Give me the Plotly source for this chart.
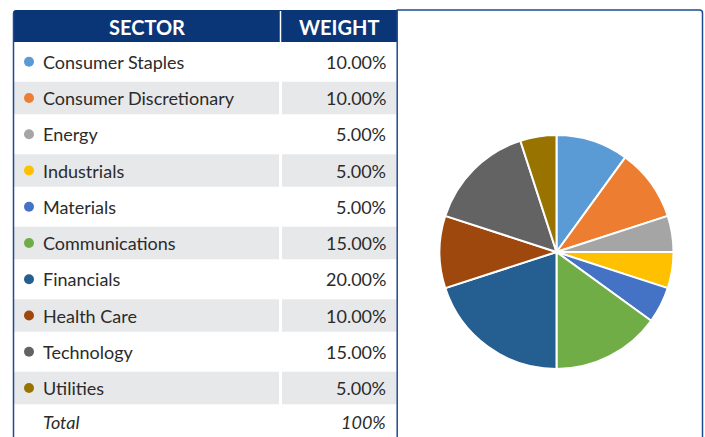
import plotly.graph_objects as go

# ---- data ----
sectors = ["Consumer Staples", "Consumer Discretionary", "Energy", "Industrials",
           "Materials", "Communications", "Financials", "Health Care",
           "Technology", "Utilities"]
weights = [10.0, 10.0, 5.0, 5.0, 5.0, 15.0, 20.0, 10.0, 15.0, 5.0]
colors = ["#5B9BD5", "#ED7D31", "#A5A5A5", "#FFC000", "#4472C4",
          "#70AD47", "#255E91", "#9E480E", "#636363", "#997300"]
header_labels = ["SECTOR", "WEIGHT"]
total_label = "Total"
total_value = "100%"

# ---- layout constants (pixels) ----
W, H = 705, 437
NAVY = "#0a3577"
BORDER = "#1f4b8e"
GREY = "#e7e8ea"
TXT = "#2b2b2b"
FONT = "Lato"
tbl_l, tbl_r, col_div = 13, 397, 280.5
hdr_t, hdr_b = 10, 42
row0, pitch = 61.8, 36.25
row_y = [row0 + pitch * i for i in range(len(sectors))]
total_y = row_y[-1] + 33.5

fig = go.Figure()

shapes = []
# header
shapes.append(dict(type="path", layer="below",
                   path=f"M {tbl_l},{hdr_b} L {tbl_l},{hdr_t+3} Q {tbl_l},{hdr_t} {tbl_l+3},{hdr_t} "
                        f"L {tbl_r},{hdr_t} L {tbl_r},{hdr_b} Z",
                   fillcolor=NAVY, line=dict(width=0)))
shapes.append(dict(type="line", layer="below", x0=col_div, x1=col_div, y0=hdr_t + 1, y1=hdr_b,
                   line=dict(color="white", width=1.5)))
# alternating grey rows
for i, y in enumerate(row_y):
    if i % 2 == 1:
        shapes.append(dict(type="rect", layer="below", x0=tbl_l + 1, x1=col_div - 1.5,
                           y0=y - 16.3, y1=y + 16.3, fillcolor=GREY, line=dict(width=0)))
        shapes.append(dict(type="rect", layer="below", x0=col_div + 1.5, x1=tbl_r - 0.5,
                           y0=y - 16.3, y1=y + 16.3, fillcolor=GREY, line=dict(width=0)))
# table left border
shapes.append(dict(type="line", layer="above", x0=tbl_l + 0.5, x1=tbl_l + 0.5, y0=hdr_t + 3, y1=H + 5,
                   line=dict(color=BORDER, width=1.5)))
# right chart box
bx_l, bx_r = 397.2, 702.5
shapes.append(dict(type="path", layer="above",
                   path=f"M {bx_l},{H+5} L {bx_l},{hdr_t} L {bx_r-3},{hdr_t} Q {bx_r},{hdr_t} {bx_r},{hdr_t+3} "
                        f"L {bx_r},{H+5}",
                   line=dict(color=BORDER, width=1.5)))

# legend dots
fig.add_trace(go.Scatter(x=[29] * len(sectors), y=row_y, mode="markers",
                         marker=dict(size=10, color=colors, line=dict(width=0)),
                         hoverinfo="skip", showlegend=False))

annotations = []
for lbl, xc in zip(header_labels, [(tbl_l + col_div) / 2, (col_div + tbl_r) / 2]):
    annotations.append(dict(x=xc, y=(hdr_t + hdr_b) / 2 + 0.5, text=f"<b>{lbl}</b>",
                            showarrow=False, xanchor="center", yanchor="middle",
                            font=dict(family=FONT, size=20, color="white")))
for s, w, y in zip(sectors, weights, row_y):
    annotations.append(dict(x=41, y=y, text=s, showarrow=False, xanchor="left", yanchor="middle",
                            font=dict(family=FONT, size=18, color=TXT)))
    annotations.append(dict(x=388, y=y, text=f"{w:.2f}%", showarrow=False, xanchor="right",
                            yanchor="middle", font=dict(family=FONT, size=18, color=TXT)))
annotations.append(dict(x=41, y=total_y, text=f"<i>{total_label}</i>", showarrow=False, xanchor="left",
                        yanchor="middle", font=dict(family=FONT, size=18, color=TXT)))
annotations.append(dict(x=388, y=total_y, text=f"<i>{total_value}</i>", showarrow=False, xanchor="right",
                        yanchor="middle", font=dict(family=FONT, size=18, color=TXT)))

# pie
cx, cy, r = 556.5, 252, 117
fig.add_trace(go.Pie(labels=sectors, values=weights, sort=False, direction="clockwise", rotation=0,
                     marker=dict(colors=colors, line=dict(color="white", width=2)),
                     textinfo="none", hoverinfo="label+percent", showlegend=False,
                     domain=dict(x=[(cx - r) / W, (cx + r) / W], y=[1 - (cy + r) / H, 1 - (cy - r) / H])))

fig.update_layout(width=W, height=H, margin=dict(l=0, r=0, t=0, b=0),
                  paper_bgcolor="white", plot_bgcolor="white",
                  xaxis=dict(range=[0, W], visible=False, fixedrange=True),
                  yaxis=dict(range=[H, 0], visible=False, fixedrange=True),
                  shapes=shapes, annotations=annotations, showlegend=False)

fig.write_html("out.html", config={"displayModeBar": False},
               post_script="document.body.style.margin='0';document.body.style.overflow='hidden';")
